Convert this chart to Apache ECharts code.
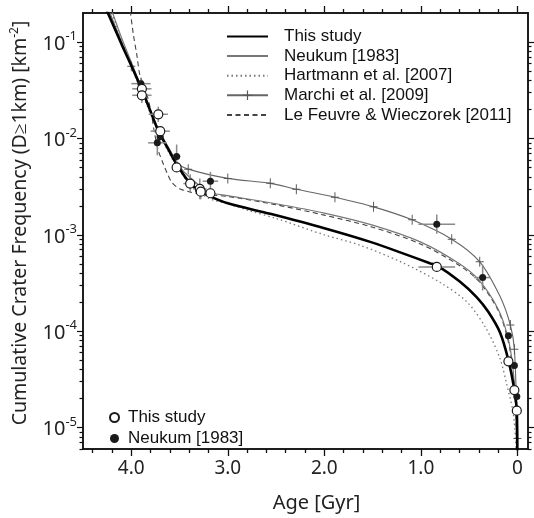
<!DOCTYPE html>
<html>
<head>
<meta charset="utf-8">
<script src="https://cdn.jsdelivr.net/npm/echarts@6/dist/echarts.min.js"></script>
<style>
html, body { margin: 0; padding: 0; background: #fff; }
#chart { width: 534px; height: 518px; }
</style>
</head>
<body>
<div id="chart"></div>
<script>
// curves (age in Gyr, N(D>=1km) per km^2)
var thisAge = [4.26, 4.10, 4.00, 3.88, 3.80, 3.72, 3.60, 3.53, 3.40, 3.30, 3.20, 3.00, 2.56, 2.00, 1.50, 1.20, 0.90, 0.83, 0.60, 0.42, 0.30, 0.18, 0.093, 0.031, 0.006, 0.0];
var thisN   = [0.22, 0.0946, 0.057, 0.0304, 0.019, 0.012, 0.0072, 0.0054, 0.0035, 0.0029, 0.00255, 0.00212, 0.00165, 0.00117, 0.00083, 0.00065, 0.000505, 0.00048, 0.00033, 0.000225, 0.000158, 0.000097, 0.000050, 0.0000245, 0.000015, 0.000004];

var neukumAge = [4.20, 4.10, 4.00, 3.90, 3.80, 3.70, 3.60, 3.50, 3.40, 3.20, 3.00, 2.50, 2.00, 1.50, 1.00, 0.60, 0.40, 0.20, 0.10, 0.05, 0.02, 0.0];
var neukumN   = [0.21, 0.11, 0.062, 0.035, 0.019, 0.0115, 0.0076, 0.0051, 0.0040, 0.0028, 0.00255, 0.0021, 0.00168, 0.00126, 0.00084, 0.0005, 0.00034, 0.00017, 0.000088, 0.000045, 0.000019, 0.000002];

var hartAge = [4.20, 4.00, 3.80, 3.60, 3.50, 3.40, 3.20, 3.00, 2.77, 2.50, 2.00, 1.63, 1.20, 0.80, 0.52, 0.32, 0.18, 0.11, 0.04, 0.01, 0.0];
var hartN   = [0.2, 0.056, 0.018, 0.0068, 0.0047, 0.0034, 0.0024, 0.0021, 0.00177, 0.00148, 0.001, 0.00078, 0.00052, 0.00032, 0.0002, 0.000105, 0.000052, 0.000028, 0.0000135, 0.0000045, 0.000001];

var marchiAge  = [4.22, 4.00, 3.80, 3.65, 3.53, 3.41, 3.00, 2.56, 2.29, 1.89, 1.49, 1.09, 0.68, 0.39, 0.18, 0.073, 0.031, 0.0];
var marchiN    = [0.2, 0.056, 0.019, 0.0088, 0.0056, 0.0048, 0.00385, 0.00342, 0.00297, 0.00245, 0.00195, 0.00143, 0.0009, 0.000525, 0.00023, 0.000116, 0.0000649, 0.0000077];
var marchiMark = [0, 1, 0, 0, 0, 1, 1, 1, 1, 1, 1, 1, 1, 1, 0, 1, 1, 1];

var lfAge = [4.01, 3.98, 3.94, 3.91, 3.86, 3.80, 3.76, 3.72, 3.67, 3.63, 3.58, 3.50, 3.40, 3.30, 3.00, 2.50, 2.00, 1.50, 1.00, 0.60, 0.40, 0.20, 0.10, 0.05, 0.02, 0.0];
var lfN   = [0.21, 0.123, 0.071, 0.045, 0.034, 0.02, 0.0115, 0.0075, 0.0055, 0.0044, 0.0035, 0.0030, 0.0028, 0.00266, 0.0025, 0.00205, 0.0016, 0.0012, 0.0008, 0.00048, 0.00033, 0.000165, 0.000083, 0.000042, 0.000017, 0.000002];

// data points
var openAge = [3.89, 3.89, 3.72, 3.70, 3.53, 3.39, 3.29, 3.28, 3.18, 0.835, 0.093, 0.031, 0.006];
var openN   = [0.0327, 0.028, 0.0178, 0.0119, 0.0050, 0.0034, 0.0030, 0.0028, 0.0027, 0.000464, 0.0000487, 0.0000245, 0.000015];
var fillAge = [3.90, 3.70, 3.73, 3.53, 3.18, 0.835, 0.36, 0.093, 0.031, 0.006];
var fillN   = [0.037, 0.0104, 0.009, 0.0065, 0.0036, 0.00129, 0.00036, 0.00009, 0.000044, 0.000021];

// error bars: age, N, +-age, N factor
var errAge = [3.90, 3.89, 3.89, 3.72, 3.70, 3.73, 3.53, 3.39, 3.29, 3.28, 3.18, 0.835, 0.835, 0.36];
var errN   = [0.037, 0.0327, 0.028, 0.0178, 0.0119, 0.009, 0.0065, 0.0034, 0.003, 0.0028, 0.0036, 0.00129, 0.000464, 0.00036];
var errDx  = [0.1, 0.1, 0.1, 0.1, 0.1, 0.095, 0.04, 0.07, 0.07, 0.06, 0.08, 0.19, 0.19, 0.087];
var errFy  = [1.15, 1.2, 1.2, 1.2, 1.1, 1.35, 1.33, 1.25, 1.28, 1.2, 1.25, 1.26, 1.0, 1.36];

// ticks
var xMajor = [0, 1, 2, 3, 4];
var xMinor = [0.2, 0.4, 0.6, 0.8, 1.2, 1.4, 1.6, 1.8, 2.2, 2.4, 2.6, 2.8, 3.2, 3.4, 3.6, 3.8, 4.2, 4.4];
var yMajor = [1e-5, 1e-4, 1e-3, 1e-2, 1e-1];
var yMinor = [];
for (var e = -6; e <= -2; e++) {
    for (var m = 2; m <= 9; m++) {
        var v = m * Math.pow(10, e);
        if (v >= 6e-6 && v < 0.2) yMinor.push(v);
    }
}

function zip(a, b) {
    return a.map(function (v, i) { return [v, b[i]]; });
}

var chart = echarts.init(document.getElementById('chart'));

var axisColor = '#111';
var font = 'Noto Sans';
var noSym = { color: 'rgba(0,0,0,0)', borderColor: 'rgba(0,0,0,0)' };

function xAxis(pos, ticks, len, labels) {
    return {
        type: 'value', position: pos, inverse: true, min: -0.11, max: 4.5,
        axisLine: { show: true, onZero: false, lineStyle: { color: axisColor, width: 1.5 } },
        axisTick: { show: true, inside: false, length: len, customValues: ticks, lineStyle: { color: axisColor, width: 1.3 } },
        axisLabel: {
            show: labels, customValues: xMajor, margin: 10,
            color: '#222', fontFamily: font, fontSize: 19,
            formatter: function (v) { return v === 0 ? '0' : v.toFixed(1); }
        },
        splitLine: { show: false }
    };
}

function yAxis(pos, ticks, len, labels) {
    return {
        type: 'log', position: pos, min: 6e-6, max: 0.2, logBase: 10,
        axisLine: { show: true, onZero: false, lineStyle: { color: axisColor, width: 1.5 } },
        axisTick: { show: true, inside: false, length: len, customValues: ticks, lineStyle: { color: axisColor, width: 1.2 } },
        axisLabel: {
            show: labels, customValues: yMajor, margin: 6,
            formatter: function (v) {
                return '{b|10}{s|-' + Math.round(-Math.log10(v)) + '}';
            },
            rich: {
                b: { fontFamily: font, fontSize: 20, color: '#222', lineHeight: 24, verticalAlign: 'bottom' },
                s: { fontFamily: font, fontSize: 13, color: '#222', lineHeight: 24, verticalAlign: 'top' }
            }
        },
        splitLine: { show: false }
    };
}

var xAxes = [xAxis('bottom', xMajor, 7, true), xAxis('bottom', xMinor, 4, false),
             xAxis('top', xMajor, 7, false), xAxis('top', xMinor, 4, false)];
xAxes[0].name = 'Age [Gyr]';
xAxes[0].nameLocation = 'middle';
xAxes[0].nameGap = 44;
xAxes[0].nameTextStyle = { fontFamily: font, fontSize: 20, color: '#222', padding: [0, 0, 0, 22] };

var yAxes = [yAxis('left', yMajor, 6, true), yAxis('left', yMinor, 3.5, false),
             yAxis('right', yMajor, 6, false), yAxis('right', yMinor, 3.5, false)];
yAxes[0].name = 'Cumulative Crater Frequency (D\u22651km) [km{s|-2}]';
yAxes[0].nameLocation = 'middle';
yAxes[0].nameGap = 52;
yAxes[0].nameTextStyle = {
    fontFamily: font, fontSize: 19.5, color: '#222', padding: [0, 0, 0, 16],
    rich: { s: { fontFamily: font, fontSize: 12, color: '#222', verticalAlign: 'top', lineHeight: 22 } }
};

var plusSymbol = 'path://M-0.12,-1H0.12V1H-0.12Z M-1,-0.1H1V0.1H-1Z';

var option = {
    animation: false,
    grid: { left: 83, right: 6, top: 13, bottom: 60 },
    legend: [
        {
            data: ['This study', 'Neukum [1983]', 'Hartmann et al. [2007]', 'Marchi et al. [2009]', 'Le Feuvre & Wieczorek [2011]'],
            orient: 'vertical', left: 221, top: 23,
            itemWidth: 41, itemHeight: 12, itemGap: 2.6,
            selectedMode: false,
            textStyle: { fontFamily: 'Liberation Sans', fontSize: 17, color: '#111', lineHeight: 16, padding: [0, 0, 0, 11] }
        },
        {
            data: [{ name: 'This study ', icon: 'circle' }, { name: 'Neukum [1983] ', icon: 'circle' }],
            orient: 'vertical', left: 104, top: 404,
            itemWidth: 9, itemHeight: 9, itemGap: 4,
            selectedMode: false,
            textStyle: { fontFamily: 'Liberation Sans', fontSize: 17, color: '#111', lineHeight: 17, padding: [0, 0, 0, 4] }
        }
    ],
    xAxis: xAxes,
    yAxis: yAxes,
    series: [
        {
            name: 'Hartmann et al. [2007]', type: 'line', data: zip(hartAge, hartN),
            smooth: 0.3, symbol: 'none', z: 2, itemStyle: noSym,
            lineStyle: { color: '#777', width: 1.3, type: [1.5, 3] }
        },
        {
            name: 'Le Feuvre & Wieczorek [2011]', type: 'line', data: zip(lfAge, lfN),
            smooth: 0.3, symbol: 'none', z: 2, itemStyle: noSym,
            lineStyle: { color: '#444', width: 1.1, type: [5, 3.5] }
        },
        {
            name: 'Neukum [1983]', type: 'line', data: zip(neukumAge, neukumN),
            smooth: 0.3, symbol: 'none', z: 3, itemStyle: noSym,
            lineStyle: { color: '#777', width: 1.2 }
        },
        {
            name: 'Marchi et al. [2009]', type: 'line',
            data: marchiAge.map(function (a, i) {
                return { value: [a, marchiN[i]], symbol: marchiMark[i] ? plusSymbol : 'none' };
            }),
            smooth: 0.3, symbol: plusSymbol, symbolSize: [8, 10], showSymbol: true, z: 3,
            itemStyle: { color: '#555' },
            lineStyle: { color: '#666', width: 1.1 }
        },
        {
            name: 'This study', type: 'line', data: zip(thisAge, thisN),
            smooth: 0.3, symbol: 'none', z: 4, itemStyle: noSym,
            lineStyle: { color: '#000', width: 2.6 }
        },
        {
            name: 'errors', type: 'custom', z: 5, clip: true,
            data: errAge.map(function (a, i) { return [a, errN[i], errDx[i], errFy[i]]; }),
            encode: { x: 0, y: 1 },
            renderItem: function (params, api) {
                var x = api.value(0), y = api.value(1), dx = api.value(2), fy = api.value(3);
                var l = api.coord([x + dx, y]), r = api.coord([x - dx, y]);
                var t = api.coord([x, y * fy]), b = api.coord([x, y / fy]);
                var st = { stroke: '#8a8a8a', lineWidth: 1.5 };
                return {
                    type: 'group',
                    children: [
                        { type: 'line', shape: { x1: l[0], y1: l[1], x2: r[0], y2: r[1] }, style: st },
                        { type: 'line', shape: { x1: t[0], y1: t[1], x2: b[0], y2: b[1] }, style: st }
                    ]
                };
            }
        },
        {
            name: 'Neukum [1983] ', type: 'scatter', data: zip(fillAge, fillN),
            symbol: 'circle', symbolSize: 7, z: 6,
            itemStyle: { color: '#1a1a1a', opacity: 1 }
        },
        {
            name: 'This study ', type: 'scatter', data: zip(openAge, openN),
            symbol: 'circle', symbolSize: 9, z: 7,
            itemStyle: { color: '#fff', borderColor: '#1a1a1a', borderWidth: 1.2, opacity: 1 }
        }
    ]
};

chart.setOption(option);
</script>
</body>
</html>
